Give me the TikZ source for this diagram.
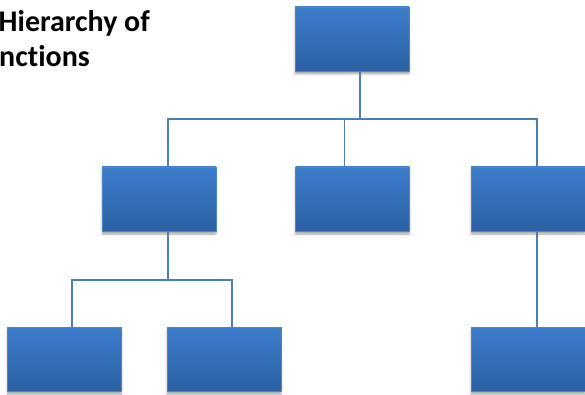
\documentclass[tikz,border=0pt]{standalone}
\usepackage{fontspec}
\setmainfont{Carlito}[Ligatures=NoCommon]
\usepackage{tikz}
\definecolor{orgTop}{HTML}{3D7ECC}
\definecolor{orgBottom}{HTML}{2C61A3}
\definecolor{orgEdge}{HTML}{4A86CC}
\definecolor{orgLine}{HTML}{4A7EBB}
\usetikzlibrary{shadows.blur}

\begin{document}
\begin{tikzpicture}[x=1pt,y=-1pt, every node/.style={font=\bfseries}]
  \useasboundingbox (0,0) rectangle (585,395);
  \tikzset{
    unitbox/.style={minimum width=114pt, minimum height=64pt, inner sep=0pt,
      top color=orgTop, bottom color=orgBottom, draw=orgEdge, line width=0.8pt,
      blur shadow={shadow xshift=0pt, shadow yshift=-3pt, shadow blur steps=6, shadow opacity=35}},
    link/.style={draw=orgLine, line width=1.6pt},
    heading/.style={anchor=base west, inner sep=0pt, font=\bfseries\fontsize{30}{35}\selectfont}
  }
  \node[heading] (title1) at (-1.5,32) {Hierarchy of};
  \node[heading] (title2) at (-1,67) {nctions};
  \foreach \name/\x/\y in {top/352/39, mid1/159/199, mid2/352.5/199, mid3/528/199,
                           bot1/64.5/359, bot2/224/359, bot3/528/359} {
    \node[unitbox] (\name) at (\x,\y) {};
  }
  \coordinate (busA) at (360,119);
  \coordinate (busB) at (168,280);
  \draw[link] ([xshift=8]top.south) -- (busA);
  \draw[link] ([xshift=9]mid1.north) |- ([xshift=9]mid3.north |- busA) -- ([xshift=9]mid3.north);
  \draw[link] ([xshift=-8]mid2.north) -- ([xshift=-8]mid2.north |- busA);
  \draw[link] ([xshift=9]mid1.south) -- (busB);
  \draw[link] ([xshift=7.5]bot1.north) |- ([xshift=8]bot2.north |- busB) -- ([xshift=8]bot2.north);
  \draw[link] ([xshift=9]mid3.south) -- ([xshift=9]bot3.north);
\end{tikzpicture}
\end{document}
